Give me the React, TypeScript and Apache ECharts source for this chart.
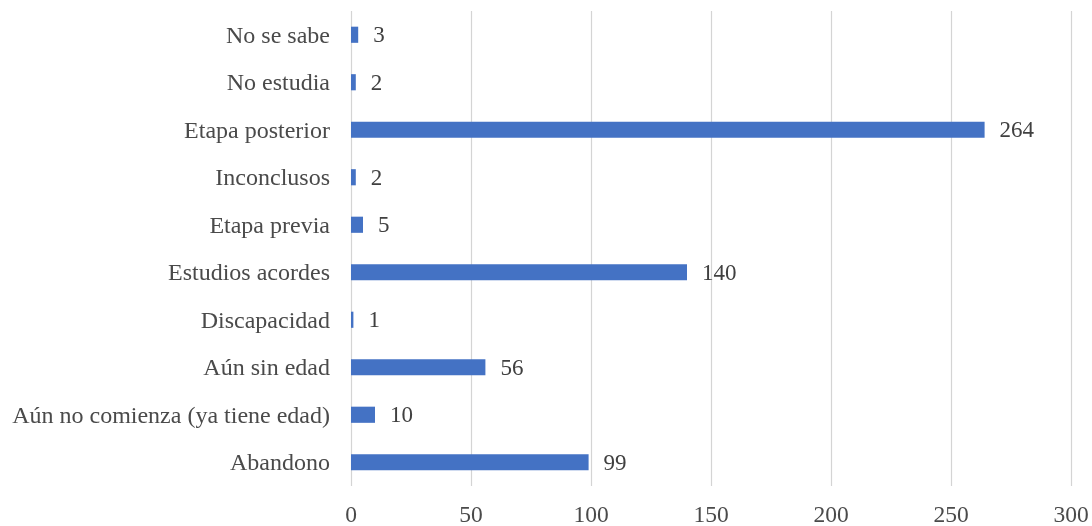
import React, { useEffect, useRef } from "react";
import * as echarts from "echarts";

const categories = [
  "Abandono",
  "Aún no comienza (ya tiene edad)",
  "Aún sin edad",
  "Discapacidad",
  "Estudios acordes",
  "Etapa previa",
  "Inconclusos",
  "Etapa posterior",
  "No estudia",
  "No se sabe",
];
const values = [99, 10, 56, 1, 140, 5, 2, 264, 2, 3];
const xTicks = { min: 0, max: 300, interval: 50 };

export default function App() {
  const ref = useRef<HTMLDivElement>(null);
  useEffect(() => {
    if (!ref.current) return;
    const chart = echarts.init(ref.current, null, { renderer: "svg" });
    const font = "'Liberation Serif', 'Times New Roman', serif";
    chart.setOption({
      animation: false,
      textStyle: { fontFamily: font },
      grid: { left: 351, right: 21, top: 11, bottom: 32, containLabel: false },
      xAxis: {
        type: "value",
        min: xTicks.min,
        max: xTicks.max,
        interval: xTicks.interval,
        axisLine: { show: false },
        axisTick: { show: false },
        splitLine: { show: true, lineStyle: { color: "#d4d4d4", width: 1.2 } },
        axisLabel: { color: "#4a4a4a", fontSize: 23.5, fontFamily: font, margin: 16 },
      },
      yAxis: {
        type: "category",
        data: categories,
        axisLine: { show: false },
        axisTick: { show: false },
        axisLabel: { color: "#4a4a4a", fontSize: 24, fontFamily: font, margin: 21 },
      },
      series: [
        {
          type: "bar",
          data: values,
          barWidth: "34%",
          itemStyle: { color: "#4472C4" },
          label: {
            show: true,
            position: "right",
            distance: 15,
            color: "#404040",
            fontSize: 23,
            fontFamily: font,
          },
        },
      ],
    });
    return () => chart.dispose();
  }, []);
  return (
    <div
      ref={ref}
      style={{ position: "fixed", left: 0, top: 0, width: 1092, height: 526 }}
    />
  );
}
